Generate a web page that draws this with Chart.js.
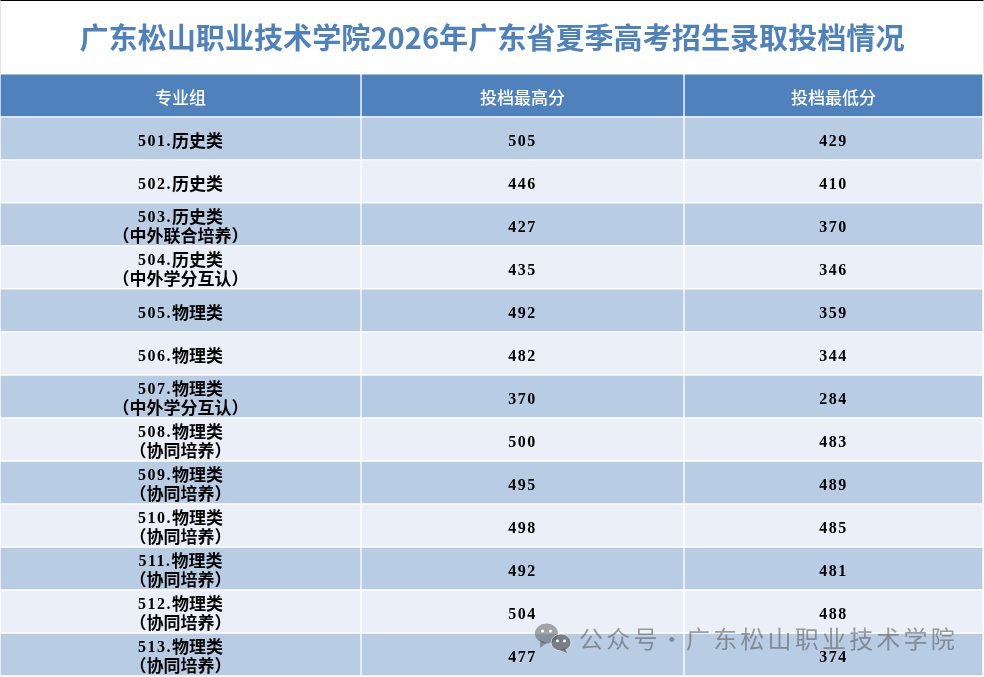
<!DOCTYPE html>
<html lang="zh">
<head>
<meta charset="utf-8">
<title>广东松山职业技术学院2026年广东省夏季高考招生录取投档情况</title>
<script src="https://cdn.jsdelivr.net/npm/chart.js@4"></script>
<style>
    html, body { margin: 0; padding: 0; background: #fff; overflow: hidden; }
    #wrap { position: relative; width: 984px; height: 677px; }
    #tableChart { display: block; }
    #frame {
        position: absolute; left: 0; top: 0; width: 982px; height: 73px;
        border-top: 1px solid #000; border-left: 1px solid #e4e4e4; border-right: 1px solid #e4e4e4;
    }
    #mark {
        position: absolute; left: 579px; top: 622px; white-space: nowrap;
        font: 24px/32px "Noto Sans CJK SC", sans-serif; letter-spacing: 3.2px; word-spacing: -9.5px;
        color: rgba(85, 85, 85, 0.55);
    }
    #markIcon { position: absolute; left: 535px; top: 623px; }
</style>
</head>
<body>
<div id="wrap">
    <canvas id="tableChart" width="984" height="677"></canvas>
    <div id="frame"></div>
    <svg id="markIcon" width="38" height="32" viewBox="0 0 38 32">
        <ellipse cx="11.5" cy="10.5" rx="11.5" ry="10" fill="rgba(85,85,85,0.5)"/>
        <path d="M5 17 L5 25 L12 20 Z" fill="rgba(85,85,85,0.5)"/>
        <circle cx="7.5" cy="8" r="1.6" fill="#fff"/>
        <circle cx="15.5" cy="8" r="1.6" fill="#fff"/>
        <ellipse cx="26" cy="19.5" rx="10" ry="8.5" fill="rgba(85,85,85,0.65)" stroke="#fff" stroke-width="0.6"/>
        <path d="M30 25 L32 30 L25 27 Z" fill="rgba(85,85,85,0.65)"/>
        <circle cx="22.5" cy="18" r="1.4" fill="#fff"/>
        <circle cx="29.5" cy="18" r="1.4" fill="#fff"/>
    </svg>
    <div id="mark">公众号 · 广东松山职业技术学院</div>
</div>
<script>
    const titleText = "广东松山职业技术学院2026年广东省夏季高考招生录取投档情况";
    const headers = ["专业组", "投档最高分", "投档最低分"];
    const groups = [
        "501.历史类", "502.历史类", "503.历史类", "504.历史类", "505.物理类",
        "506.物理类", "507.物理类", "508.物理类", "509.物理类", "510.物理类",
        "511.物理类", "512.物理类", "513.物理类",
    ];
    const notes = [
        "", "", "（中外联合培养）", "（中外学分互认）", "",
        "", "（中外学分互认）", "（协同培养）", "（协同培养）", "（协同培养）",
        "（协同培养）", "（协同培养）", "（协同培养）",
    ];
    const highest = [505, 446, 427, 435, 492, 482, 370, 500, 495, 498, 492, 504, 477];
    const lowest = [429, 410, 370, 346, 359, 344, 284, 483, 489, 485, 481, 488, 374];

    // column borders, on the x scale (which runs in page pixels)
    const columnEdges = [0, 361, 684, 983];
    const rowLabels = ["header"].concat(groups);

    function rowColor(ctx) {
        if (ctx.dataIndex === 0) return "#4f81bd";
        return ctx.dataIndex % 2 === 1 ? "#b8cce4" : "#ebf0f8";
    }

    function cellText(row, col) {
        if (row === 0) return [headers[col]];
        const i = row - 1;
        if (col === 1) return [String(highest[i])];
        if (col === 2) return [String(lowest[i])];
        return notes[i] ? [groups[i], notes[i]] : [groups[i]];
    }

    // digits are wider in the source table than the serif font, so they get their own run
    function drawLine(ctx, text, x, y, cjkFont) {
        const runs = text.match(/[0-9.]+|[^0-9.]+/g).map((str) => {
            const ascii = /^[0-9.]/.test(str);
            ctx.font = ascii ? '700 16px "Liberation Serif"' : cjkFont;
            ctx.letterSpacing = ascii ? "1.5px" : "0px";
            return { str, ascii, font: ctx.font, spacing: ctx.letterSpacing, width: ctx.measureText(str).width };
        });
        let left = x - runs.reduce((sum, r) => sum + r.width, 0) / 2;
        runs.forEach((r) => {
            ctx.font = r.font;
            ctx.letterSpacing = r.spacing;
            // the CJK font sits lower than the digits on a middle baseline
            ctx.fillText(r.str, left, r.ascii ? y : y - 1);
            left += r.width;
        });
    }

    // the table text sits in the middle of each bar
    const cellLabels = {
        id: "cellLabels",
        afterDatasetsDraw(chart) {
            const { ctx, scales } = chart;
            ctx.save();
            ctx.textAlign = "left";
            ctx.textBaseline = "middle";
            rowLabels.forEach((label, row) => {
                const y = scales.y.getPixelForValue(row) + 3;
                const cjkFont = (row === 0 ? "500" : "700") + ' 17px "Noto Sans CJK SC"';
                ctx.fillStyle = row === 0 ? "#fff" : "#000";
                for (let col = 0; col < 3; col++) {
                    const x = scales.x.getPixelForValue((columnEdges[col] + columnEdges[col + 1]) / 2);
                    const lines = cellText(row, col);
                    if (lines.length === 2) {
                        drawLine(ctx, lines[0], x, y - 9.5, cjkFont);
                        drawLine(ctx, lines[1], x, y + 9, cjkFont);
                    } else {
                        drawLine(ctx, lines[0], x, y, cjkFont);
                    }
                }
            });
            ctx.restore();
        },
    };

    new Chart(document.getElementById("tableChart"), {
        type: "bar",
        plugins: [cellLabels],
        data: {
            labels: rowLabels,
            datasets: headers.map((name, col) => ({
                label: name,
                data: rowLabels.map(() => [columnEdges[col], columnEdges[col + 1]]),
                backgroundColor: rowColor,
                borderColor: "#fff",
                borderWidth: 1,
                borderSkipped: false,
                categoryPercentage: 1,
                barPercentage: 1,
                grouped: false,
            })),
        },
        options: {
            indexAxis: "y",
            responsive: false,
            animation: false,
            devicePixelRatio: 1,
            layout: { padding: { bottom: 1 } },
            scales: {
                x: { type: "linear", min: 0, max: 984, display: false },
                y: { type: "category", display: false },
            },
            plugins: {
                legend: { display: false },
                tooltip: { enabled: false },
                title: {
                    display: true,
                    text: titleText,
                    color: "#4f81bd",
                    font: { family: '"Noto Sans CJK SC"', size: 29.1, weight: "700", lineHeight: 1.2 },
                    padding: { top: 20.5, bottom: 18.5 },
                },
            },
        },
    });
</script>
</body>
</html>
